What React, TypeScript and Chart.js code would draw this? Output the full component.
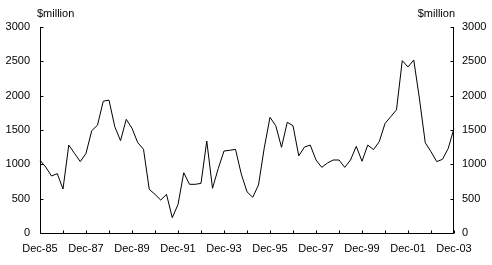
import React, { useEffect, useRef } from 'react';
import { Chart, registerables } from 'chart.js';

Chart.register(...registerables);

// Quarterly, Dec-85 .. Dec-03
const months = ['Dec', 'Mar', 'Jun', 'Sep'];
const startYear = 1985;
const endYear = 2003;

const values = [
  1060, 960, 830, 865, 640, 1280, 1160, 1040, 1160, 1490, 1570, 1920, 1935,
  1550, 1345, 1655, 1525, 1315, 1220, 636, 563, 480, 563, 223, 415,
  878, 709, 709, 723, 1340, 651, 940, 1194, 1204, 1218, 860, 600,
  520, 700, 1240, 1685, 1563, 1248, 1612, 1563, 1124, 1252, 1280, 1063,
  956, 1020, 1063, 1063, 956, 1063, 1262, 1045, 1280, 1215, 1330, 1595,
  1694, 1795, 2510, 2418, 2519, 1950, 1315, 1184, 1039, 1073, 1233, 1525,
];

const yTicks = [0, 500, 1000, 1500, 2000, 2500, 3000];
const unitLabel = '$million';

function buildLabels(): string[] {
  const out: string[] = [];
  for (let y = startYear; y <= endYear; y++) {
    for (let q = 0; q < 4; q++) {
      if (q === 0) {
        out.push(`Dec-${String(y % 100).padStart(2, '0')}`);
      } else {
        out.push(`${months[q]}-${String((y + 1) % 100).padStart(2, '0')}`);
      }
      if (y === endYear) break;
    }
  }
  return out;
}

const labels = buildLabels();
const FONT = '"Liberation Sans", Arial, sans-serif';

export default function App() {
  const ref = useRef<HTMLCanvasElement | null>(null);

  useEffect(() => {
    if (!ref.current) return;
    const axesPlugin = {
      id: 'axesPlugin',
      afterDraw(chart: any) {
        const { ctx, chartArea } = chart;
        const { left, right, top, bottom } = chartArea;
        const xs = chart.scales.x;
        const ys = chart.scales.y;
        ctx.save();
        ctx.strokeStyle = '#000';
        ctx.lineWidth = 1;
        ctx.beginPath();
        const L = Math.round(left) + 0.5;
        const R = Math.round(right) - 0.5;
        const B = Math.round(bottom) + 0.5;
        const T = Math.round(top);
        ctx.moveTo(L, T);
        ctx.lineTo(L, B);
        ctx.lineTo(R, B);
        ctx.moveTo(R, T);
        ctx.lineTo(R, B);
        // x tick marks, one per year, pointing inward
        for (let i = 0; i < labels.length; i += 4) {
          const px = Math.round(xs.getPixelForValue(i)) + 0.5;
          ctx.moveTo(px, B);
          ctx.lineTo(px, B - 3);
        }
        // y tick marks on both sides, inward
        for (const v of yTicks) {
          const py = Math.round(ys.getPixelForValue(v)) + 0.5;
          ctx.moveTo(L, py);
          ctx.lineTo(L + 3, py);
          ctx.moveTo(R, py);
          ctx.lineTo(R - 3, py);
        }
        ctx.stroke();
        // unit labels
        ctx.fillStyle = '#000';
        ctx.font = `11px ${FONT}`;
        ctx.textBaseline = 'alphabetic';
        ctx.textAlign = 'left';
        ctx.fillText(unitLabel, left - 3, 17);
        ctx.textAlign = 'right';
        ctx.fillText(unitLabel, right + 1, 17);
        ctx.restore();
      },
    };

    const yTickCb = (v: any) => String(v);

    const chart = new Chart(ref.current, {
      type: 'line',
      data: {
        labels,
        datasets: [
          {
            data: values,
            borderColor: '#000',
            borderWidth: 1,
            pointRadius: 0,
            tension: 0,
            fill: false,
          },
        ],
      },
      options: {
        animation: false,
        responsive: false,
        devicePixelRatio: 1,
        layout: { padding: { top: 27, left: 0, right: 0, bottom: 0 } },
        plugins: {
          legend: { display: false },
          tooltip: { enabled: false },
        },
        scales: {
          x: {
            type: 'category',
            offset: false,
            grid: { display: false, drawTicks: false },
            border: { display: false },
            ticks: {
              autoSkip: false,
              maxRotation: 0,
              minRotation: 0,
              padding: 9,
              color: '#000',
              font: { family: FONT, size: 11 },
              callback: (_v: any, idx: number) => (idx % 8 === 0 ? labels[idx] : ''),
            },
            afterFit: (s: any) => {
              s.height = 32;
            },
          },
          y: {
            position: 'left',
            min: 0,
            max: 3000,
            grid: { display: false, drawTicks: false },
            border: { display: false },
            ticks: {
              stepSize: 500,
              padding: 10,
              color: '#000',
              font: { family: FONT, size: 11 },
              callback: yTickCb,
            },
            afterFit: (s: any) => {
              s.width = 40;
            },
          },
          y2: {
            position: 'right',
            min: 0,
            max: 3000,
            grid: { display: false, drawTicks: false },
            border: { display: false },
            ticks: {
              stepSize: 500,
              padding: 8,
              color: '#000',
              font: { family: FONT, size: 11 },
              callback: yTickCb,
            },
            afterFit: (s: any) => {
              s.width = 38;
            },
          },
        },
      },
      plugins: [axesPlugin],
    });
    return () => chart.destroy();
  }, []);

  return (
    <div style={{ position: 'absolute', left: 0, top: 0, width: 492, height: 265 }}>
      <canvas ref={ref} width={492} height={265} style={{ display: 'block' }} />
    </div>
  );
}
